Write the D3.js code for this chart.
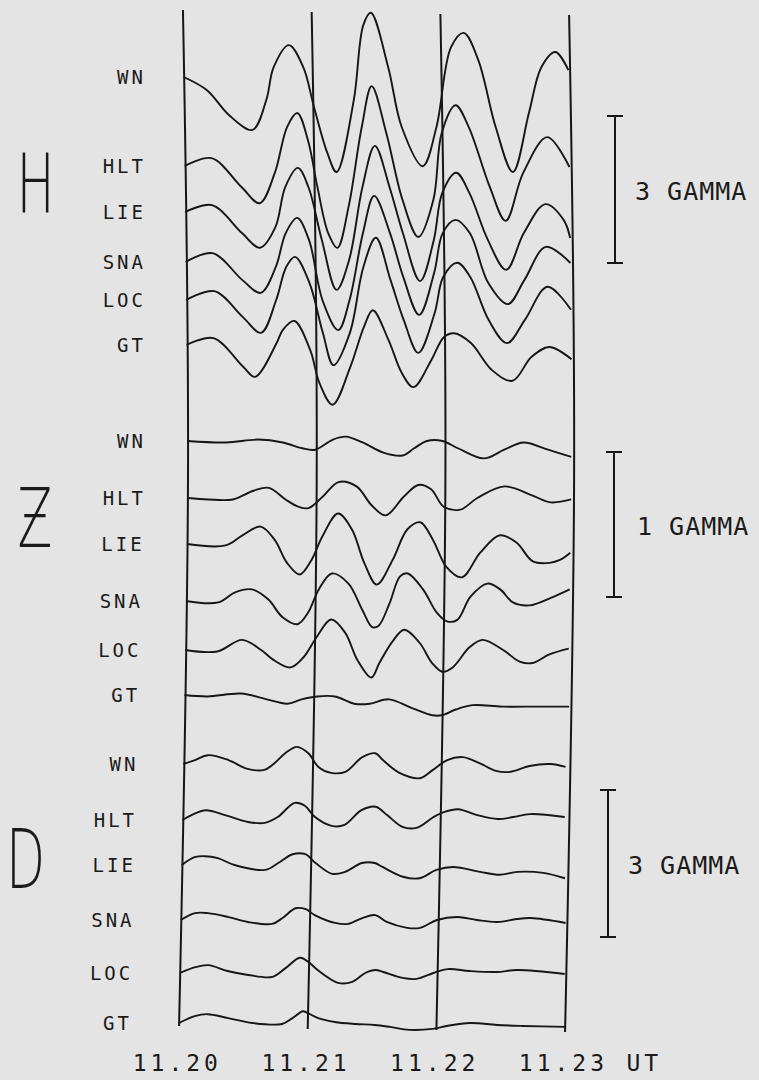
<!DOCTYPE html>
<html><head><meta charset="utf-8">
<script src="https://cdn.jsdelivr.net/npm/d3@7"></script>
<style>
body{margin:0;background:#e4e4e4}
svg{display:block}
text{fill:#1a1a1a}
</style>
</head><body>
<svg id="c" width="759" height="1080"></svg>
<script>
// ---------- DATA ----------
const tickMinutes = [0, 1, 2, 3];
const tickLabels = ["11.20", "11.21", "11.22", "11.23"];
const timeUnit = "UT";
const stations = ["WN", "HLT", "LIE", "SNA", "LOC", "GT"];
const components = ["H", "Ƶ", "D"];
const scaleGammas = [3, 1, 3];
const scaleLabels = ["3 GAMMA", "1 GAMMA", "3 GAMMA"];

// each trace: [minutes after 11.20, gamma relative to start]
const H_WN  = [[0,0],[0.18,-0.27],[0.35,-0.78],[0.53,-1.08],[0.64,-0.47],[0.70,0.20],[0.82,0.65],[0.93,0.20],[1.01,-0.61],[1.11,-1.55],[1.18,-1.94],[1.32,-0.47],[1.40,1.06],[1.46,1.31],[1.59,0.20],[1.69,-1.02],[1.85,-1.82],[1.96,-1.02],[2.08,0.61],[2.18,0.90],[2.29,0.35],[2.42,-1.02],[2.55,-1.94],[2.68,-0.73],[2.78,0.20],[2.89,0.51],[2.99,0.14]];
const H_HLT = [[0,0],[0.21,0.16],[0.44,-0.43],[0.58,-0.76],[0.70,-0.14],[0.80,0.80],[0.88,1.08],[0.96,0.53],[1.03,-0.43],[1.11,-1.37],[1.18,-1.67],[1.27,-0.84],[1.38,0.80],[1.46,1.63],[1.57,0.67],[1.69,-0.69],[1.81,-1.45],[1.93,-0.69],[2.00,0.67],[2.11,1.24],[2.21,0.80],[2.37,-0.43],[2.49,-1.12],[2.63,-0.14],[2.82,0.59],[2.99,-0.02]];
const H_LIE = [[0,0],[0.21,0.14],[0.44,-0.43],[0.58,-0.73],[0.70,-0.31],[0.78,0.51],[0.88,0.90],[0.96,0.51],[1.06,-0.57],[1.17,-1.59],[1.27,-0.98],[1.38,0.51],[1.48,1.35],[1.59,0.51],[1.69,-0.43],[1.82,-1.41],[1.93,-0.57],[2.00,0.39],[2.11,0.80],[2.21,0.39],[2.35,-0.57],[2.49,-1.18],[2.63,-0.43],[2.80,0.16],[2.94,-0.16],[2.99,-0.53]];
const H_SNA = [[0,0],[0.21,0.18],[0.44,-0.37],[0.58,-0.63],[0.70,-0.10],[0.78,0.59],[0.87,0.90],[0.96,0.45],[1.06,-0.78],[1.18,-1.39],[1.27,-0.78],[1.38,0.59],[1.47,1.35],[1.59,0.59],[1.69,-0.31],[1.81,-1.08],[1.93,-0.22],[2.00,0.59],[2.10,0.86],[2.21,0.59],[2.35,-0.43],[2.50,-0.86],[2.63,-0.37],[2.80,0.31],[2.99,-0.02]];
const H_LOC = [[0,0],[0.22,0.18],[0.44,-0.35],[0.58,-0.67],[0.70,0.00],[0.78,0.67],[0.85,0.88],[0.96,0.35],[1.06,-0.67],[1.14,-1.33],[1.27,-0.67],[1.38,0.67],[1.48,1.27],[1.59,0.41],[1.69,-0.41],[1.80,-1.08],[1.93,-0.27],[2.00,0.47],[2.11,0.76],[2.21,0.47],[2.35,-0.41],[2.49,-0.88],[2.63,-0.41],[2.81,0.27],[2.99,-0.20]];
const H_GT  = [[0,0],[0.21,0.14],[0.44,-0.45],[0.53,-0.65],[0.70,0.04],[0.75,0.31],[0.84,0.49],[0.96,-0.10],[1.03,-0.78],[1.13,-1.22],[1.27,-0.45],[1.38,0.37],[1.45,0.71],[1.57,0.10],[1.67,-0.57],[1.76,-0.86],[1.90,-0.31],[2.00,0.16],[2.08,0.24],[2.21,0.04],[2.37,-0.51],[2.53,-0.73],[2.68,-0.24],[2.82,-0.04],[2.99,-0.29]];

const Z_WN  = [[0,0],[0.30,-0.01],[0.55,0.01],[0.74,-0.01],[0.89,-0.05],[0.99,-0.06],[1.13,0.01],[1.23,0.03],[1.36,-0.01],[1.52,-0.08],[1.67,-0.10],[1.76,-0.05],[1.86,0.00],[1.98,0.00],[2.10,-0.05],[2.30,-0.12],[2.46,-0.06],[2.61,-0.01],[2.80,-0.06],[2.98,-0.11]];
const Z_HLT = [[0,0],[0.16,-0.01],[0.35,-0.01],[0.51,0.05],[0.63,0.07],[0.76,-0.01],[0.86,-0.06],[0.94,-0.07],[1.05,0.01],[1.17,0.11],[1.31,0.08],[1.43,-0.05],[1.54,-0.12],[1.68,0.01],[1.79,0.09],[1.89,0.06],[1.99,-0.06],[2.12,-0.08],[2.25,0.00],[2.46,0.08],[2.67,0.02],[2.82,-0.03],[2.98,-0.01]];
const Z_LIE = [[0,0],[0.30,-0.01],[0.43,0.06],[0.57,0.12],[0.68,0.03],[0.78,-0.13],[0.88,-0.21],[0.97,-0.11],[1.05,0.05],[1.17,0.21],[1.28,0.10],[1.38,-0.13],[1.48,-0.28],[1.60,-0.11],[1.71,0.10],[1.81,0.15],[1.91,0.03],[2.02,-0.16],[2.14,-0.23],[2.28,-0.06],[2.43,0.06],[2.56,0.01],[2.69,-0.12],[2.82,-0.13],[2.90,-0.11],[2.98,-0.06]];
const Z_SNA = [[0,0],[0.25,-0.01],[0.38,0.06],[0.51,0.08],[0.64,0.01],[0.75,-0.11],[0.87,-0.16],[0.95,-0.08],[1.03,0.08],[1.13,0.19],[1.26,0.12],[1.37,-0.06],[1.45,-0.18],[1.50,-0.17],[1.58,-0.02],[1.66,0.17],[1.72,0.19],[1.84,0.08],[1.95,-0.08],[2.03,-0.14],[2.11,-0.13],[2.21,0.03],[2.34,0.12],[2.44,0.08],[2.54,-0.01],[2.67,-0.03],[2.83,0.02],[2.98,0.08]];
const Z_LOC = [[0,0],[0.25,-0.01],[0.44,0.07],[0.59,0.00],[0.69,-0.07],[0.82,-0.12],[0.92,-0.05],[1.02,0.09],[1.13,0.21],[1.24,0.12],[1.34,-0.07],[1.45,-0.19],[1.51,-0.09],[1.61,0.06],[1.70,0.14],[1.82,0.05],[1.92,-0.09],[2.00,-0.15],[2.08,-0.12],[2.21,0.02],[2.31,0.07],[2.47,0.00],[2.60,-0.08],[2.70,-0.09],[2.83,-0.03],[2.98,0.01]];
const Z_GT  = [[0,0],[0.18,-0.01],[0.44,0.01],[0.64,-0.03],[0.80,-0.06],[0.91,-0.03],[1.03,-0.01],[1.17,-0.01],[1.32,-0.06],[1.44,-0.06],[1.59,-0.03],[1.77,-0.09],[1.93,-0.14],[2.00,-0.14],[2.11,-0.10],[2.24,-0.07],[2.47,-0.08],[2.74,-0.08],[2.99,-0.08]];

const D_WN  = [[0,0],[0.09,0.08],[0.19,0.18],[0.35,0.08],[0.50,-0.10],[0.63,-0.12],[0.71,0.02],[0.79,0.22],[0.88,0.35],[0.97,0.22],[1.05,-0.06],[1.15,-0.18],[1.26,-0.16],[1.39,0.14],[1.49,0.22],[1.55,0.08],[1.68,-0.18],[1.84,-0.29],[1.94,-0.12],[2.05,0.08],[2.17,0.14],[2.30,0.02],[2.43,-0.14],[2.54,-0.16],[2.69,-0.04],[2.85,0.00],[2.97,-0.06]];
const D_HLT = [[0,0],[0.07,0.10],[0.18,0.20],[0.33,0.10],[0.51,-0.04],[0.64,-0.06],[0.74,0.06],[0.87,0.35],[0.95,0.29],[1.03,0.06],[1.16,-0.12],[1.26,-0.10],[1.39,0.20],[1.50,0.27],[1.59,0.10],[1.71,-0.14],[1.82,-0.16],[1.95,0.06],[2.03,0.16],[2.14,0.22],[2.29,0.10],[2.45,0.02],[2.57,0.06],[2.70,0.12],[2.97,0.06]];
const D_LIE = [[0,0],[0.10,0.16],[0.18,0.18],[0.28,0.14],[0.41,0.00],[0.65,-0.10],[0.75,0.04],[0.86,0.22],[0.96,0.22],[1.04,0.04],[1.17,-0.18],[1.27,-0.14],[1.40,0.04],[1.50,0.04],[1.56,-0.04],[1.72,-0.24],[1.85,-0.27],[1.98,-0.10],[2.11,-0.04],[2.32,-0.14],[2.47,-0.20],[2.61,-0.14],[2.81,-0.16],[2.98,-0.27]];
const D_SNA = [[0,0],[0.11,0.14],[0.21,0.14],[0.37,0.06],[0.52,-0.04],[0.71,-0.08],[0.79,0.04],[0.89,0.24],[0.97,0.22],[1.04,0.10],[1.20,-0.06],[1.30,-0.08],[1.41,0.04],[1.51,0.10],[1.60,-0.04],[1.76,-0.16],[1.86,-0.16],[1.99,0.00],[2.15,0.06],[2.30,0.00],[2.46,-0.04],[2.61,0.02],[2.72,0.04],[2.99,-0.06]];
const D_LOC = [[0,0],[0.12,0.12],[0.22,0.16],[0.37,0.04],[0.53,-0.04],[0.72,-0.08],[0.82,0.10],[0.93,0.31],[1.00,0.22],[1.07,0.06],[1.23,-0.20],[1.34,-0.18],[1.44,0.00],[1.52,0.06],[1.58,0.02],[1.73,-0.10],[1.84,-0.12],[1.97,0.00],[2.08,0.08],[2.25,0.04],[2.46,0.02],[2.62,0.06],[2.99,-0.02]];
const D_GT  = [[0,0],[0.12,0.14],[0.22,0.18],[0.38,0.10],[0.57,0.00],[0.80,-0.02],[0.88,0.10],[0.96,0.24],[1.00,0.20],[1.08,0.10],[1.21,0.02],[1.37,-0.02],[1.52,-0.04],[1.64,-0.08],[1.79,-0.14],[1.97,-0.12],[2.08,-0.06],[2.26,0.00],[2.47,-0.04],[2.67,-0.06],[3.00,-0.08]];

// ---------- LAYOUT ----------
const panels = [
  {letter: components[0], traces: [H_WN,H_HLT,H_LIE,H_SNA,H_LOC,H_GT],
   bases: [77,166,212,262,300,345], ppg: 49, gamma: scaleGammas[0], label: scaleLabels[0],
   barX: 615, barTop: 116, labelX: 635, letterX: 35.5, letterBase: 212},
  {letter: components[1], traces: [Z_WN,Z_HLT,Z_LIE,Z_SNA,Z_LOC,Z_GT],
   bases: [441,498,544,601,650,695], ppg: 145, gamma: scaleGammas[1], label: scaleLabels[1],
   barX: 614, barTop: 452, labelX: 637, letterX: 35, letterBase: 547},
  {letter: components[2], traces: [D_WN,D_HLT,D_LIE,D_SNA,D_LOC,D_GT],
   bases: [764,820,865,920,973,1023], ppg: 49, gamma: scaleGammas[2], label: scaleLabels[2],
   barX: 608, barTop: 790, labelX: 628, letterX: 25.5, letterBase: 888}
];

const svg = d3.select("#c");
const ink = "#161616";
const x = d3.scaleLinear().domain([0, 3]).range([185, 571.1]);
// slight skew of the scanned sheet
const tilt = d3.scaleLinear().domain([15, 480, 1030]).range([-2, 3, -6]);
const labelRight = d3.scaleLinear().domain([80, 500, 700, 1023]).range([143, 143, 137, 129]).clamp(true);

// vertical time lines
const lineTops = [10, 12, 14, 15], lineBottoms = [1026, 1029, 1030, 1032];
const vline = d3.line().x(d => d[0]).y(d => d[1]).curve(d3.curveNatural);
tickMinutes.forEach((t, i) => {
  const ys = [lineTops[i], 480, lineBottoms[i]];
  svg.append("path")
    .attr("d", vline(ys.map(y => [x(t) + tilt(y), y])))
    .attr("fill", "none").attr("stroke", ink).attr("stroke-width", 2);
});

// tick labels
const tickY = 1071;
tickMinutes.forEach((t, i) => {
  svg.append("text").attr("x", x(t) + tilt(tickY) - 1).attr("y", tickY)
    .attr("text-anchor", "middle")
    .style("font-family", "'DejaVu Sans Mono', monospace").style("font-size", "23px")
    .style("letter-spacing", "4px").text(tickLabels[i]);
});
svg.append("text").attr("x", x(3) + tilt(tickY) + 62).attr("y", tickY)
  .style("font-family", "'DejaVu Sans Mono', monospace").style("font-size", "23px")
  .style("letter-spacing", "4px").text(timeUnit);

// traces
panels.forEach(p => {
  const yg = d3.scaleLinear().domain([0, 1]).range([0, -p.ppg]);
  p.traces.forEach((tr, k) => {
    const base = p.bases[k];
    const line = d3.line()
      .x(d => x(d[0]) + tilt(base + yg(d[1])))
      .y(d => base + yg(d[1]))
      .curve(d3.curveCatmullRom.alpha(0.5));
    svg.append("path").attr("d", line(tr))
      .attr("fill", "none").attr("stroke", ink).attr("stroke-width", 1.9)
      .attr("stroke-linejoin", "round");
    // station label
    svg.append("text")
      .attr("x", labelRight(base) + 3).attr("y", base + 7)
      .attr("text-anchor", "end")
      .style("font-family", "'DejaVu Sans Mono', monospace").style("font-size", "19px")
      .style("letter-spacing", "3px").text(stations[k]);
  });

  // scale bar
  const y0 = p.barTop, y1 = p.barTop - yg(p.gamma);
  const g = svg.append("g").attr("stroke", ink).attr("stroke-width", 2);
  g.append("line").attr("x1", p.barX).attr("x2", p.barX).attr("y1", y0).attr("y2", y1);
  g.append("line").attr("x1", p.barX - 8).attr("x2", p.barX + 8).attr("y1", y0).attr("y2", y0);
  g.append("line").attr("x1", p.barX - 8).attr("x2", p.barX + 8).attr("y1", y1).attr("y2", y1);
  svg.append("text").attr("x", p.labelX).attr("y", (y0 + y1) / 2 + 10)
    .style("font-family", "'DejaVu Sans Mono', monospace").style("font-size", "25px")
    .style("letter-spacing", "1px").text(p.label);

  // component letter
  svg.append("text")
    .attr("transform", `translate(${p.letterX},${p.letterBase}) scale(0.62,1)`)
    .attr("text-anchor", "middle")
    .style("font-family", "'DejaVu Sans', sans-serif").style("font-weight", "200")
    .style("font-size", "82px").text(p.letter);
});
</script>
</body></html>
